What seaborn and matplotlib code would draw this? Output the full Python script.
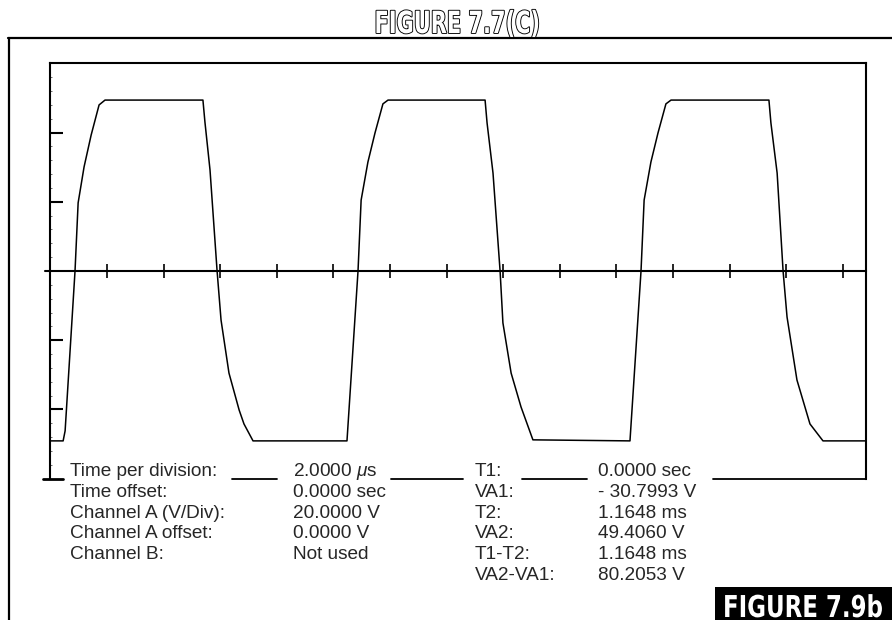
import matplotlib
matplotlib.use("Agg")
import matplotlib.pyplot as plt
import matplotlib.patheffects as pe
from matplotlib.colors import to_rgba
from matplotlib.lines import Line2D
from matplotlib.patches import Rectangle
from matplotlib.ticker import MultipleLocator
from matplotlib.transforms import Affine2D
import seaborn as sns
import pandas as pd

# Scope trace: time (microseconds) and channel A voltage (V)
trace_time_us = [0.00, 0.45, 0.52, 0.87, 0.98, 1.19, 1.44, 1.72, 1.93,
                 5.39, 5.46, 5.64, 5.89, 6.03, 6.31, 6.67, 6.84, 7.16,
                 10.48, 10.87, 10.98, 11.22, 11.47, 11.75, 11.93,
                 15.36, 15.43, 15.64, 15.89, 15.99, 16.28, 16.63, 17.05,
                 20.48, 20.87, 20.98, 21.22, 21.47, 21.75, 21.93,
                 25.39, 25.46, 25.68, 25.89, 26.03, 26.38, 26.84, 27.30,
                 28.82]
trace_volts = [-49.1, -49.1, -46.2, 0.0, 19.7, 30.1, 39.3, 48.0, 49.4,
               49.4, 43.1, 29.2, 0.0, -14.2, -29.5, -40.2, -44.2, -49.1,
               -49.1, 0.0, 20.5, 31.5, 39.9, 48.3, 49.4,
               49.4, 42.8, 28.3, 0.0, -15.0, -29.5, -39.3, -48.8,
               -49.1, 0.0, 20.5, 31.5, 39.9, 48.3, 49.4,
               49.4, 42.8, 28.3, 0.0, -13.3, -31.5, -44.2, -49.1,
               -49.1]

# Readout panel below the trace
settings_labels = ["Time per division:", "Time offset:", "Channel A (V/Div):",
                   "Channel A offset:", "Channel B:"]
settings_values = ["2.0000 $\\mu$s", "0.0000 sec", "20.0000 V", "0.0000 V", "Not used"]
cursor_labels = ["T1:", "VA1:", "T2:", "VA2:", "T1-T2:", "VA2-VA1:"]
cursor_values = ["0.0000 sec", "- 30.7993 V", "1.1648 ms", "49.4060 V",
                 "1.1648 ms", "80.2053 V"]

title_text = "FIGURE 7.7(C)"
figure_tag = "FIGURE 7.9b"


class Reshape(pe.AbstractPathEffect):
    """Draw text scaled by (sx, sy) about an anchor point (display pixels)."""

    def __init__(self, sx, sy, cx, cy, stroke=None, stroke_lw=1.0):
        super().__init__()
        self.sx, self.sy = sx, sy
        self.cx, self.cy = cx, cy
        self.stroke = stroke
        self.stroke_lw = stroke_lw

    def draw_path(self, renderer, gc, tpath, affine, rgbFace=None):
        aff = affine + (Affine2D().translate(-self.cx, -self.cy)
                        .scale(self.sx, self.sy).translate(self.cx, self.cy))
        if self.stroke is not None:
            gc0 = renderer.new_gc()
            gc0.copy_properties(gc)
            gc0.set_foreground(self.stroke)
            gc0.set_linewidth(self.stroke_lw)
            renderer.draw_path(gc0, tpath, aff, to_rgba(self.stroke))
            gc0.restore()
        renderer.draw_path(gc, tpath, aff, rgbFace)


sns.set_style("white")
plt.rcParams["font.family"] = ["Liberation Sans", "DejaVu Sans"]
plt.rcParams["mathtext.fontset"] = "custom"
plt.rcParams["mathtext.rm"] = "Liberation Sans"
plt.rcParams["mathtext.it"] = "Liberation Sans:italic"

W, H = 892, 620
fig = plt.figure(figsize=(W / 100, H / 100), dpi=100)
fig.patch.set_facecolor("white")


def fx(px):
    return px / W


def fy(py):
    return 1 - py / H


ax_left, ax_right, ax_top, ax_bot = 50.4, 866.0, 63.4, 478.6
ax_w = ax_right - ax_left
ax = fig.add_axes([fx(ax_left), fy(ax_bot), ax_w / W, (ax_bot - ax_top) / H])
ax.set_facecolor("white")

df = pd.DataFrame({"t": trace_time_us, "v": trace_volts})
sns.lineplot(data=df, x="t", y="v", sort=False, estimator=None, color="black",
             linewidth=1.1, ax=ax)

ax.set_xlim(0, 28.82)
ax.set_ylim(-60, 60)
ax.set_xlabel("")
ax.set_ylabel("")

# Frame: left/top/right spines, bottom spine acts as the 0 V baseline
for side in ["left", "top", "right"]:
    ax.spines[side].set_visible(True)
    ax.spines[side].set_linewidth(1.5)
    ax.spines[side].set_color("black")
ax.spines["bottom"].set_position(("data", 0))
ax.spines["bottom"].set_linewidth(1.5)
ax.spines["bottom"].set_color("black")

ax.xaxis.set_major_locator(MultipleLocator(2))
ax.tick_params(axis="x", which="major", direction="inout", length=10.5, width=1.2,
               color="black", labelbottom=False, bottom=True)
ax.set_yticks([-40, -20, 20, 40])
ax.yaxis.set_minor_locator(MultipleLocator(4))
ax.tick_params(axis="y", which="major", direction="in", length=9.5, width=1.5,
               color="black", labelleft=False, left=True)
ax.tick_params(axis="y", which="minor", direction="in", length=1.5, width=0.6,
               color="#555555", left=True)

# Baseline stub left of the axis and the foot of the vertical axis
ax.plot([-5.4 / ax_w, 0], [0, 0], transform=ax.get_yaxis_transform(),
        color="black", lw=1.5, clip_on=False)
ax.plot([-7.4 / ax_w, 12.6 / ax_w], [0, 0], transform=ax.transAxes,
        color="black", lw=2.0, clip_on=False)

# Bottom edge of the screen, broken by the first readout row
for a, b in [(232, 277), (391, 463), (522, 587), (713, 866)]:
    ax.plot([(a - ax_left) / ax_w, (b - ax_left) / ax_w], [0, 0],
            transform=ax.transAxes, color="black", lw=1.3, clip_on=False)

# Outer page frame
fig.add_artist(Line2D([fx(8.5), fx(8.5)], [fy(38), fy(620)], color="black", lw=1.6))
fig.add_artist(Line2D([fx(8), fx(892)], [fy(38), fy(38)], color="black", lw=1.6))

# Readout text
row_base = [476, 496.8, 517.6, 538.4, 559.2, 580.0]
fs = 13.7
for i, (lab, val) in enumerate(zip(settings_labels, settings_values)):
    fig.text(fx(70), fy(row_base[i]), lab, ha="left", va="baseline", fontsize=fs)
    fig.text(fx(293), fy(row_base[i]), val, ha="left", va="baseline", fontsize=fs)
for i, (lab, val) in enumerate(zip(cursor_labels, cursor_values)):
    fig.text(fx(475), fy(row_base[i]), lab, ha="left", va="baseline", fontsize=fs)
    fig.text(fx(598), fy(row_base[i]), val, ha="left", va="baseline", fontsize=fs)

# Title and figure tag in a heavy condensed face
title_cx, title_base = 457, 33
tag_cx, tag_base = 803, 617
title = fig.text(fx(title_cx), fy(title_base), title_text, ha="center", va="baseline",
                 fontsize=22, fontweight="bold", family="DejaVu Sans", color="white")
fig.add_artist(Rectangle((fx(715), 0), (W - 715) / W, 33 / H, transform=fig.transFigure,
                         facecolor="black", edgecolor="none"))
tag = fig.text(fx(tag_cx), fy(tag_base), figure_tag, ha="center", va="baseline",
               fontsize=15, fontweight="bold", family="DejaVu Sans", color="white")

fig.canvas.draw()
rend = fig.canvas.get_renderer()
tw = title.get_window_extent(rend).width
gw = tag.get_window_extent(rend).width
title.set_path_effects([Reshape(165 / tw, 1.0, title_cx, H - title_base,
                                stroke="black", stroke_lw=1.3)])
tag.set_path_effects([Reshape(160 / gw, 22 / (15 * 100 / 72 * 0.73), tag_cx, H - tag_base)])

fig.savefig("out.png", dpi=100, facecolor="white")
